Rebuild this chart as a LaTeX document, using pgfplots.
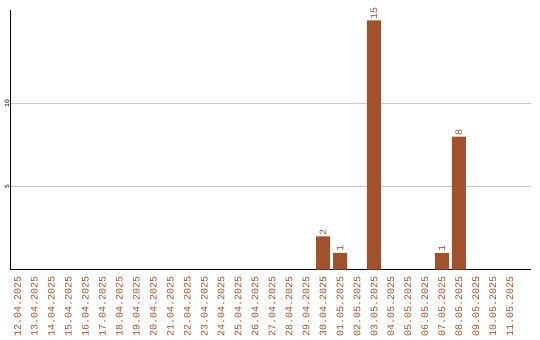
\documentclass[border=0pt]{standalone}
\usepackage{pgfplots}
\pgfplotsset{compat=1.18}
\usepackage{fontspec}
\setmainfont{Liberation Mono}
\definecolor{barc}{HTML}{A0522D}
\definecolor{gridc}{HTML}{C8C8C8}
\begin{document}
\begin{tikzpicture}
\useasboundingbox (0,0) rectangle (540bp,340bp);
\begin{axis}[
  at={(10.5bp,70.5bp)}, anchor=south west,
  scale only axis, width=520bp, height=259.5bp,
  xmin=-0.41, xmax=30.22, ymin=0, ymax=15.63,
  axis x line*=bottom, axis y line*=left,
  axis line style={-, black, line width=1bp},
  every outer x axis line/.append style={-},
  every outer y axis line/.append style={-},
  xtick={0,...,29},
  xticklabels={12.04.2025,13.04.2025,14.04.2025,15.04.2025,16.04.2025,17.04.2025,18.04.2025,19.04.2025,20.04.2025,21.04.2025,22.04.2025,23.04.2025,24.04.2025,25.04.2025,26.04.2025,27.04.2025,28.04.2025,29.04.2025,30.04.2025,01.05.2025,02.05.2025,03.05.2025,04.05.2025,05.05.2025,06.05.2025,07.05.2025,08.05.2025,09.05.2025,10.05.2025,11.05.2025},
  xticklabel style={rotate=90, anchor=east, text=barc, font=\fontsize{10bp}{11bp}\selectfont, inner sep=0pt, xshift=-7bp},
  ytick={5,10},
  yticklabel style={rotate=90, anchor=south, font=\fontsize{6.5bp}{7bp}\selectfont, inner sep=1bp},
  /pgf/number format/assume math mode=true,
  major tick length=0pt,
  ymajorgrids, major grid style={gridc, line width=1bp},
  clip=false,
]
\addplot[ybar, bar width=14bp, fill=barc, draw=none,
  nodes near coords,
  every node near coord/.append style={rotate=90, anchor=west, text=barc, font=\fontsize{10bp}{11bp}\selectfont, inner sep=1bp}]
  coordinates {(18,2) (19,1) (21,15) (25,1) (26,8)};
\end{axis}
\end{tikzpicture}
\end{document}
